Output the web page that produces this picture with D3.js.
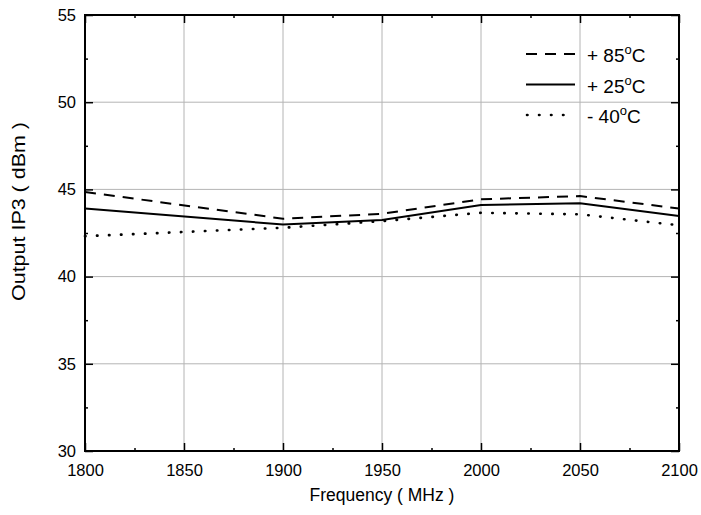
<!DOCTYPE html>
<html>
<head>
<meta charset="utf-8">
<script src="https://cdn.jsdelivr.net/npm/d3@7"></script>
<style>
  body { margin: 0; background: #fff; }
  text { font-family: "Liberation Sans", Arial, sans-serif; fill: #000; }
</style>
</head>
<body>
<div id="chart"></div>
<script>
// Data
const freqs = [1800, 1900, 1950, 2000, 2050, 2100];
const ip3_85 = [44.85, 43.32, 43.6, 44.43, 44.62, 43.9];
const ip3_25 = [43.9, 42.99, 43.25, 44.1, 44.2, 43.47];
const ip3_m40 = [42.32, 42.8, 43.18, 43.66, 43.57, 42.94];
const xTicks = [1800, 1850, 1900, 1950, 2000, 2050, 2100];
const yTicks = [30, 35, 40, 45, 50, 55];

const series = [
    { label: "+ 85", values: ip3_85, dash: "11,8", cap: "butt" },
    { label: "+ 25", values: ip3_25, dash: null, cap: "butt" },
    { label: "-  40", values: ip3_m40, dash: "0.5,11.5", cap: "round" }
];

const W = 701, H = 515;
const margin = { top: 15, right: 22, bottom: 64, left: 85 };
const width = W - margin.left - margin.right;
const height = H - margin.top - margin.bottom;

const svg = d3.select("#chart").append("svg")
    .attr("width", W)
    .attr("height", H);

const g = svg.append("g")
    .attr("transform", `translate(${margin.left},${margin.top})`);

const x = d3.scaleLinear().domain([1800, 2100]).range([0, width]);
const y = d3.scaleLinear().domain([30, 55]).range([height, 0]);

// gridlines
g.append("g").selectAll("line")
    .data(xTicks.slice(1, -1))
    .enter().append("line")
    .attr("x1", d => x(d)).attr("x2", d => x(d))
    .attr("y1", 0).attr("y2", height)
    .attr("stroke", "#b4b4b4").attr("stroke-width", 1);

g.append("g").selectAll("line")
    .data(yTicks.slice(1, -1))
    .enter().append("line")
    .attr("y1", d => y(d)).attr("y2", d => y(d))
    .attr("x1", 0).attr("x2", width)
    .attr("stroke", "#b4b4b4").attr("stroke-width", 1);

// axes with inward ticks
const xMinor = d3.range(1825, 2100, 50);
const yMinor = d3.range(32.5, 55, 5);

function styleAxis(sel) {
    sel.select(".domain").remove();
    sel.selectAll("line").attr("stroke", "#000").attr("stroke-width", 1.5);
    sel.selectAll("text").style("font-size", "16.5px");
}

g.append("g").attr("transform", `translate(0,${height})`)
    .call(d3.axisBottom(x).tickValues(xTicks).tickFormat(d3.format("d")).tickSize(-8).tickPadding(13))
    .call(styleAxis);
g.append("g").attr("transform", `translate(0,${height})`)
    .call(d3.axisBottom(x).tickValues(xMinor).tickFormat("").tickSize(-3))
    .call(styleAxis);
g.append("g")
    .call(d3.axisTop(x).tickValues(xTicks).tickFormat("").tickSize(-8))
    .call(styleAxis);
g.append("g")
    .call(d3.axisTop(x).tickValues(xMinor).tickFormat("").tickSize(-3))
    .call(styleAxis);

g.append("g")
    .call(d3.axisLeft(y).tickValues(yTicks).tickSize(-8).tickPadding(9))
    .call(styleAxis);
g.append("g")
    .call(d3.axisLeft(y).tickValues(yMinor).tickFormat("").tickSize(-3))
    .call(styleAxis);
g.append("g").attr("transform", `translate(${width},0)`)
    .call(d3.axisRight(y).tickValues(yTicks).tickFormat("").tickSize(-8))
    .call(styleAxis);
g.append("g").attr("transform", `translate(${width},0)`)
    .call(d3.axisRight(y).tickValues(yMinor).tickFormat("").tickSize(-3))
    .call(styleAxis);

// frame
g.append("rect")
    .attr("width", width).attr("height", height)
    .attr("fill", "none").attr("stroke", "#000").attr("stroke-width", 2);

// lines
const line = d3.line()
    .x((d, i) => x(freqs[i]))
    .y(d => y(d));

g.selectAll(".series")
    .data(series)
    .enter().append("path")
    .attr("class", "series")
    .attr("d", d => line(d.values))
    .attr("fill", "none")
    .attr("stroke", "#000")
    .attr("stroke-width", d => d.cap === "round" ? 2.6 : 2)
    .attr("stroke-linecap", d => d.cap)
    .attr("stroke-dasharray", d => d.dash);

// legend
const legend = svg.append("g").attr("transform", "translate(526,54)");
const rows = legend.selectAll("g")
    .data(series)
    .enter().append("g")
    .attr("transform", (d, i) => `translate(0,${i * 30.5})`);

rows.append("line")
    .attr("x1", d => d.cap === "round" ? 1 : 0).attr("x2", 49)
    .attr("stroke", "#000")
    .attr("stroke-width", d => d.cap === "round" ? 2.6 : 2)
    .attr("stroke-linecap", d => d.cap)
    .attr("stroke-dasharray", d => d.dash);

const lt = rows.append("text")
    .attr("x", 61).attr("y", 8)
    .style("font-size", "19px");
lt.append("tspan").text(d => d.label);
lt.append("tspan").attr("dy", -8).style("font-size", "13px").text("o");
lt.append("tspan").attr("dy", 8).text("C");

// axis titles
svg.append("text")
    .attr("x", margin.left + width / 2)
    .attr("y", 501)
    .attr("text-anchor", "middle")
    .style("font-size", "17.5px")
    .text("Frequency ( MHz )");

svg.append("text")
    .attr("transform", "translate(25,211.5) rotate(-90)")
    .attr("text-anchor", "middle")
    .attr("textLength", 179)
    .attr("lengthAdjust", "spacingAndGlyphs")
    .style("font-size", "18px")
    .text("Output IP3 ( dBm )");
</script>
</body>
</html>
